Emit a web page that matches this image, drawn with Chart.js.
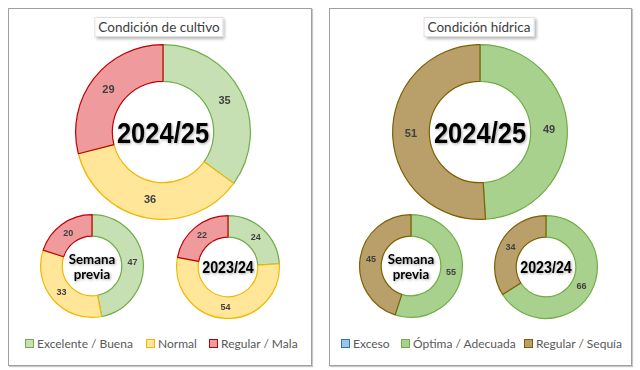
<!DOCTYPE html>
<html>
<head>
<meta charset="utf-8">
<script src="https://cdn.jsdelivr.net/npm/chart.js@4.4.1/dist/chart.umd.min.js"></script>
<style>
  body { margin: 0; background: #fff; font-family: Lato, "Open Sans", sans-serif; }
  #wrap { position: relative; width: 640px; height: 370px; overflow: hidden; }
  .panel { position: absolute; top: 8px; height: 356px; border: 1px solid #a0a0a0; box-shadow: 1px 1px 1px #c8c8c8; background: #fff; }
  .title { position: absolute; top: 17px; height: 18px; line-height: 18px; background: #fff; border: 1px solid #e0e0e0;
           box-shadow: 2px 2px 3px rgba(0,0,0,0.3); font-size: 13.5px; color: #404040; padding: 0 3px; transform: translateX(-50%); white-space: nowrap; }
  .box { position: absolute; }
  .leg { position: absolute; top: 337px; font-size: 12px; color: #595959; white-space: nowrap; line-height: 14px; }
  .leg i { display: inline-block; width: 7px; height: 7px; border: 1px solid; margin-right: 3px; vertical-align: 0px; }
</style>
</head>
<body>
<div id="wrap">
  <div class="panel" style="left:8px; width:302px;"></div>
  <div class="panel" style="left:329px; width:301px;"></div>
  <div class="title" style="left:159px;">Condición de cultivo</div>
  <div class="title" style="left:479px;">Condición hídrica</div>
  <div id="legends"></div>
</div>
<script>
// Condición de cultivo
const cropLabels = ['Excelente / Buena', 'Normal', 'Regular / Mala'];
const crop2425 = [35, 36, 29];
const cropPrev = [47, 33, 20];
const crop2324 = [24, 54, 22];
const cropFill = ['#c6e0b4', '#ffe699', '#ef9a9c'];
const cropLine = ['#70ad47', '#f2b800', '#c00000'];

// Condición hídrica
const waterLabels = ['Exceso', 'Óptima / Adecuada', 'Regular / Sequía'];
const water2425 = [0, 49, 51];
const waterPrev = [0, 55, 45];
const water2324 = [0, 66, 34];
const waterFill = ['#9dc3e6', '#a9d18e', '#b9a06b'];
const waterLine = ['#2e75b6', '#70ad47', '#7f6000'];

const wrap = document.getElementById('wrap');

function makeDoughnut(cx, cy, r, labels, values, fills, lines, center, numSize) {
    const box = document.createElement('div');
    box.className = 'box';
    const size = r * 2 + 4;
    box.style.left = (cx - size / 2) + 'px';
    box.style.top = (cy - size / 2) + 'px';
    box.style.width = size + 'px';
    box.style.height = size + 'px';
    const canvas = document.createElement('canvas');
    box.appendChild(canvas);
    wrap.appendChild(box);

    // numbers on the ring and text in the hole
    const labelPlugin = {
        id: 'ringLabels',
        afterDatasetsDraw(chart) {
            const ctx = chart.ctx;
            const meta = chart.getDatasetMeta(0);
            ctx.save();
            ctx.fillStyle = '#404040';
            ctx.font = 'bold ' + numSize + 'px "Liberation Sans", sans-serif';
            ctx.textAlign = 'center';
            ctx.textBaseline = 'middle';
            meta.data.forEach((arc, i) => {
                const v = chart.data.datasets[0].data[i];
                if (!v) return;
                const p = arc.tooltipPosition();
                ctx.fillText(v, p.x, p.y);
            });
            const a = meta.data[0];
            ctx.fillStyle = '#000';
            ctx.font = center.font;
            ctx.shadowColor = 'rgba(0,0,0,0.35)';
            ctx.shadowBlur = 3;
            ctx.shadowOffsetX = 1;
            ctx.shadowOffsetY = 1;
            ctx.translate(a.x, a.y + center.dy);
            ctx.scale(center.sx, 1);
            const y0 = -(center.lines.length - 1) * center.lh / 2;
            center.lines.forEach((t, k) => ctx.fillText(t, 0, y0 + k * center.lh));
            ctx.restore();
        }
    };

    return new Chart(canvas, {
        type: 'doughnut',
        data: {
            labels: labels,
            datasets: [{
                data: values,
                backgroundColor: fills,
                borderColor: lines,
                borderWidth: 1.2
            }]
        },
        options: {
            responsive: true,
            maintainAspectRatio: false,
            animation: false,
            cutout: '58%',
            layout: { padding: 1 },
            plugins: { legend: { display: false }, tooltip: { enabled: false } }
        },
        plugins: [labelPlugin]
    });
}

const bigText = { lines: ['2024/25'], font: 'bold 29px "Liberation Sans", sans-serif', sx: 0.88, lh: 0, dy: 3 };
const smallText = { lines: ['2023/24'], font: 'bold 17px "Liberation Sans", sans-serif', sx: 0.84, lh: 0, dy: 1 };
const prevText = { lines: ['Semana', 'previa'], font: 'bold 14px Lato, sans-serif', sx: 0.95, lh: 15, dy: 1 };

makeDoughnut(163, 132, 87, cropLabels, crop2425, cropFill, cropLine, bigText, 11);
makeDoughnut(92, 266, 51, cropLabels, cropPrev, cropFill, cropLine, prevText, 9);
makeDoughnut(228, 267, 51, cropLabels, crop2324, cropFill, cropLine, smallText, 9);

makeDoughnut(480, 132, 87, waterLabels, water2425, waterFill, waterLine, bigText, 11);
makeDoughnut(411, 266, 51, waterLabels, waterPrev, waterFill, waterLine, prevText, 9);
makeDoughnut(546, 267, 51, waterLabels, water2324, waterFill, waterLine, smallText, 9);

// legends
const legPos = [[25, 0, cropLabels, cropFill, cropLine], [146, 1, cropLabels, cropFill, cropLine], [209, 2, cropLabels, cropFill, cropLine],
                [341, 0, waterLabels, waterFill, waterLine], [401, 1, waterLabels, waterFill, waterLine], [524, 2, waterLabels, waterFill, waterLine]];
const legends = document.getElementById('legends');
legPos.forEach(([x, i, labs, f, l]) => {
    const d = document.createElement('div');
    d.className = 'leg';
    d.style.left = x + 'px';
    d.innerHTML = '<i style="background:' + f[i] + ';border-color:' + l[i] + '"></i>' + labs[i];
    legends.appendChild(d);
});
</script>
</body>
</html>
